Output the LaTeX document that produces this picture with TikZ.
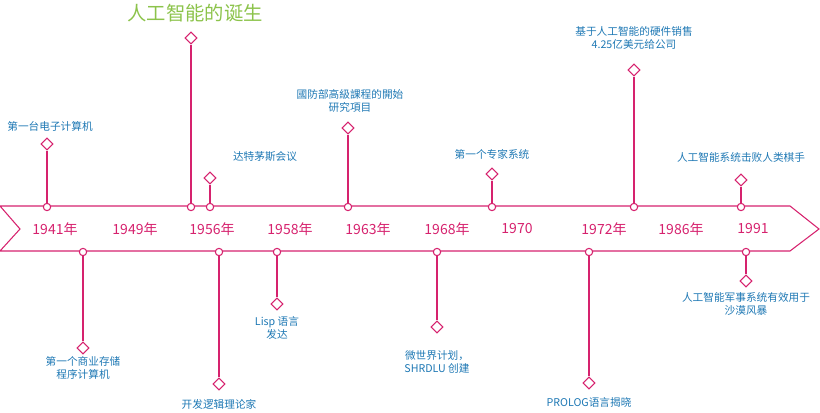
\documentclass[tikz,border=0pt]{standalone}
\usepackage{fontspec}
\setmainfont{Noto Sans CJK SC}
\usetikzlibrary{shapes.geometric}
\definecolor{linecolor}{RGB}{214,34,110}
\definecolor{textcolor}{RGB}{30,120,180}
\definecolor{titlecolor}{RGB}{140,195,75}
\tikzset{
  dot/.style={circle, draw=linecolor, fill=white, thick, inner sep=0pt, minimum size=5.5pt},
  tip/.style={diamond, draw=linecolor, fill=white, thick, inner sep=0pt, minimum size=9pt},
  stem/.style={draw=linecolor, thick},
  event/.style={text=textcolor, font=\fontsize{8}{9.5}\selectfont, align=center},
  year/.style={text=linecolor, font=\fontsize{10.5}{12}\selectfont}
}
\begin{document}
\begin{tikzpicture}[x=0.75pt,y=-0.75pt]
  \useasboundingbox (0,0) rectangle (820,413);
  % timeline band
  \draw[linecolor, thick] (0,206) -- (790,206) -- (819,229) -- (790,251) -- (0,251) -- (20,229) -- cycle;
  % years
  \foreach \x/\y in {55/1941年, 135/1949年, 212/1956年, 290/1958年, 368/1963年,
                     447/1968年, 517/1970, 604/1972年, 681/1986年, 753/1991}
    \node[year] at (\x,229) {\y};
  % events above
  \foreach \n/\x/\t in {a/47/144, b/191/38, c/210/178, d/348/128, e/492/174, f/634/70, g/741/180} {
    \node[dot] (base\n) at (\x,207) {};
    \node[tip] (tip\n) at (\x,\t) {};
    \draw[stem] (base\n) -- (tip\n);
  }
  \node[event] at (50,126) {第一台电子计算机};
  \node[text=titlecolor, font=\fontsize{14.5}{16}\selectfont] at (195,13) {人工智能的诞生};
  \node[event] at (265,157) {达特茅斯会议};
  \node[event] at (350,101) {國防部高級課程的開始\\研究項目};
  \node[event] at (492,154) {第一个专家系统};
  \node[event] at (634,38) {基于人工智能的硬件销售\\4.25亿美元给公司};
  \node[event] at (741,157) {人工智能系统击败人类棋手};
  % events below
  \foreach \n/\x/\t in {h/83/348, i/219/384, j/277/304, k/437/327, l/589/383, m/746/281} {
    \node[dot] (base\n) at (\x,252) {};
    \node[tip] (tip\n) at (\x,\t) {};
    \draw[stem] (base\n) -- (tip\n);
  }
  \node[event] at (83,368) {第一个商业存储\\程序计算机};
  \node[event] at (219,404) {开发逻辑理论家};
  \node[event] at (277,328) {Lisp 语言\\发达};
  \node[event] at (437,362) {微世界计划，\\SHRDLU 创建};
  \node[event] at (589,402) {PROLOG语言揭晓};
  \node[event] at (746,304) {人工智能军事系统有效用于\\沙漠风暴};
\end{tikzpicture}
\end{document}
